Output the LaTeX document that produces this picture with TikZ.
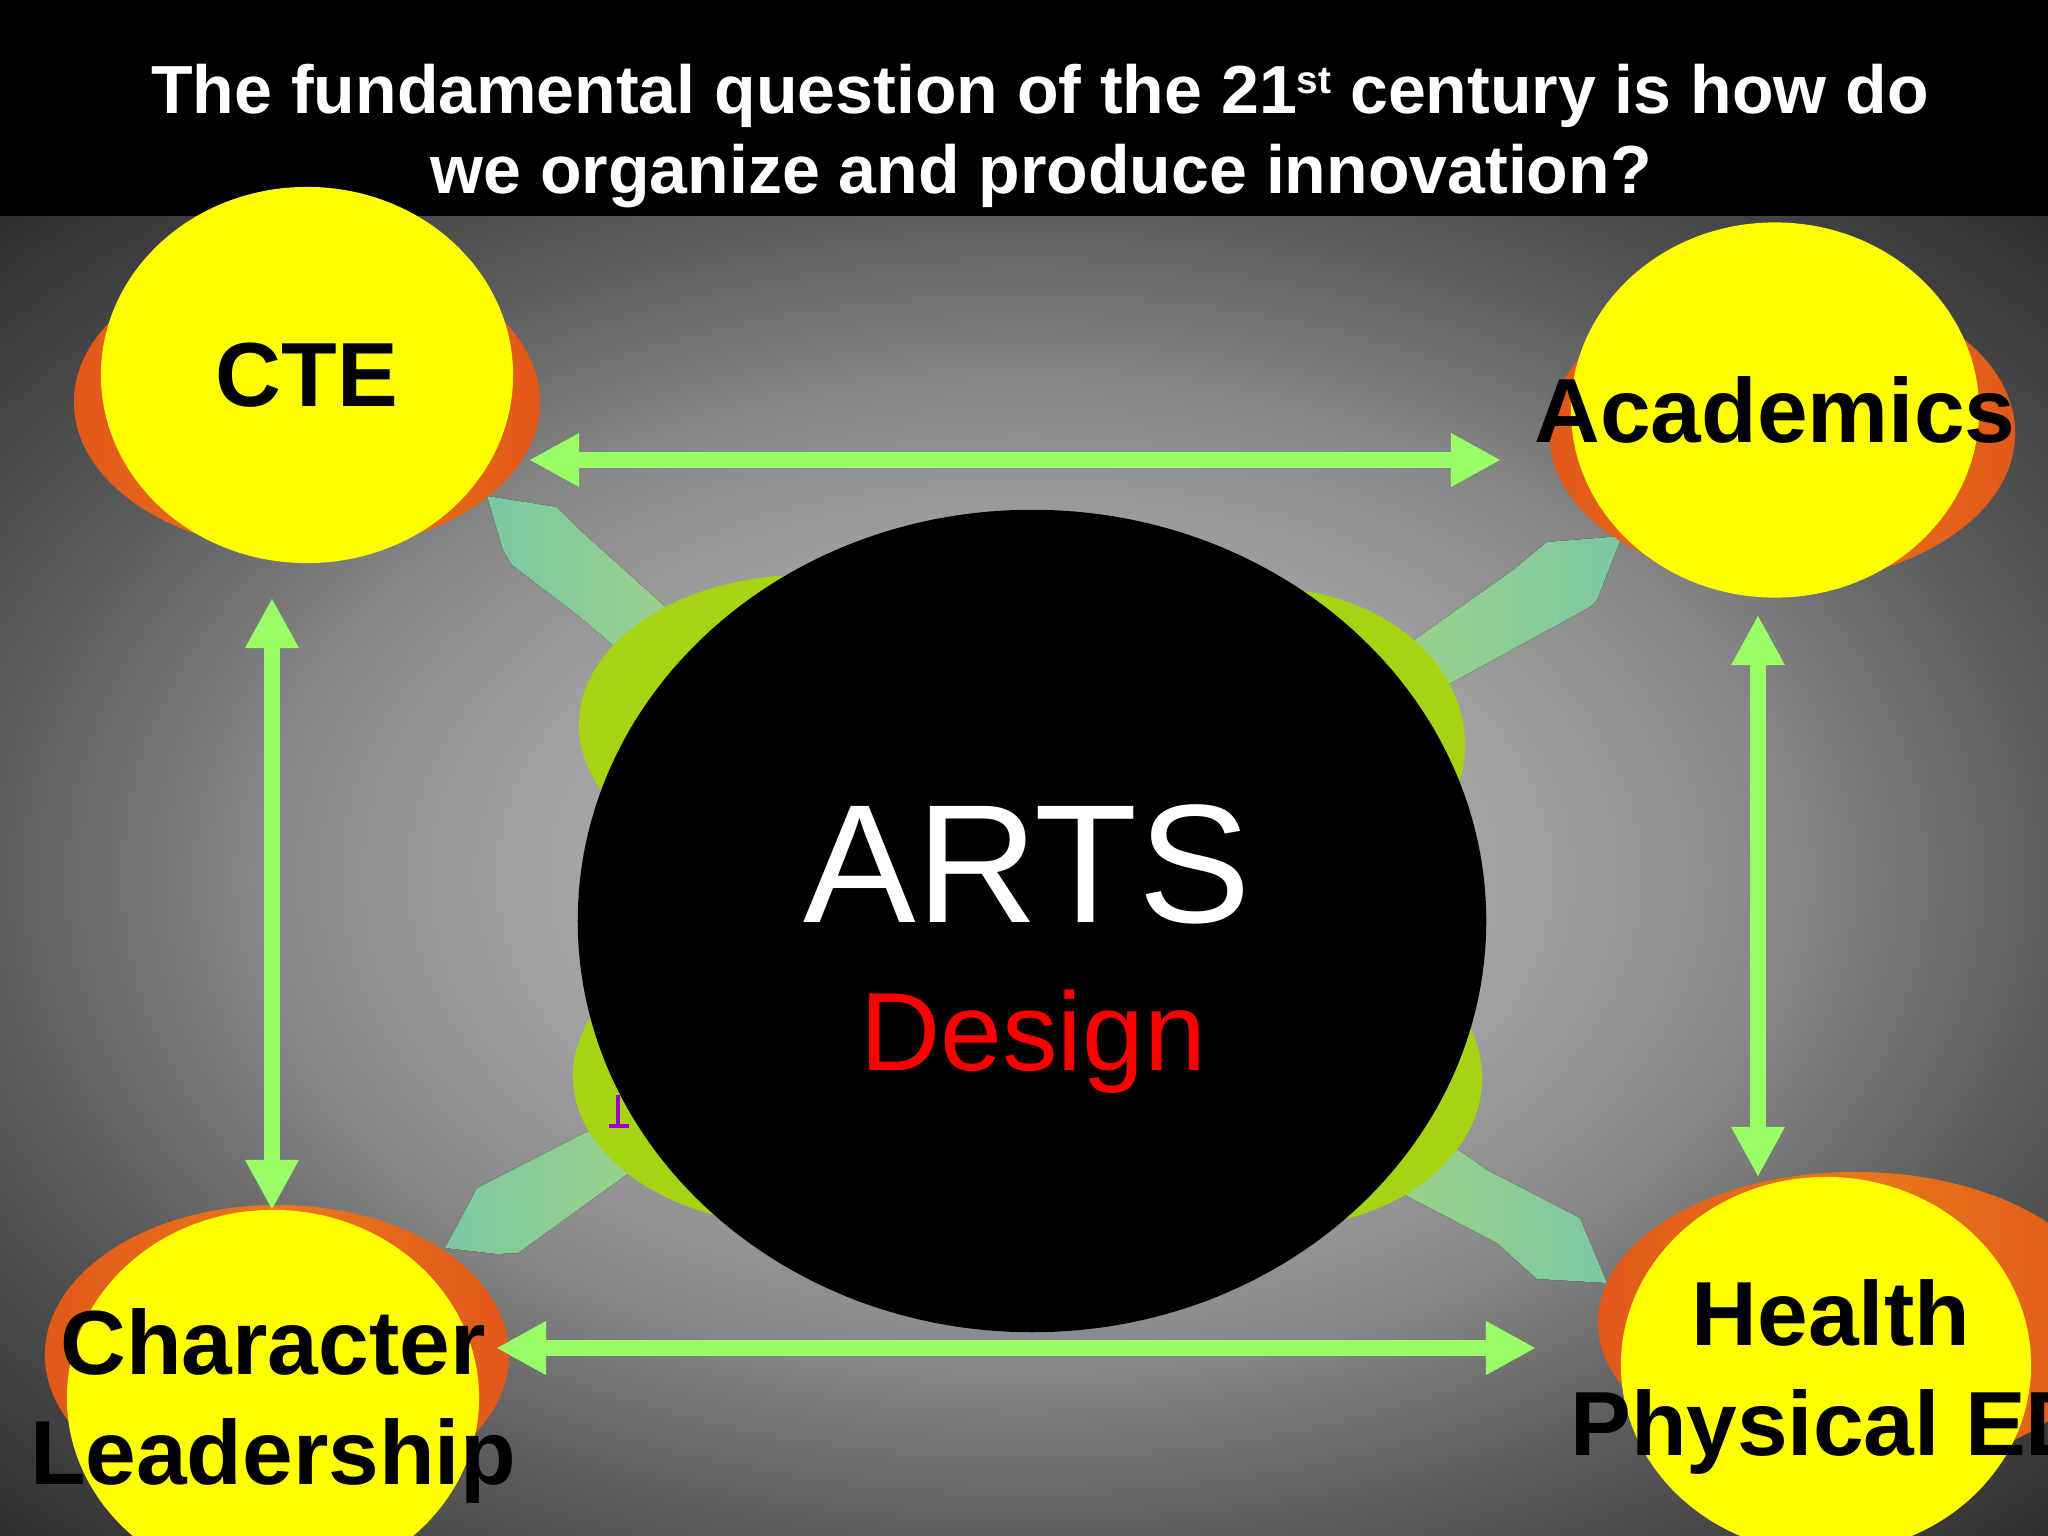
\documentclass[tikz,border=0pt]{standalone}
\usepackage{fontspec}
\setmainfont{Liberation Sans}
\usetikzlibrary{shapes.geometric,arrows.meta}
\definecolor{bgA}{HTML}{B4B4B4}
\definecolor{bgB}{HTML}{A2A2A2}
\definecolor{bgC}{HTML}{858585}
\definecolor{bgD}{HTML}{5E5E5E}
\definecolor{bgE}{HTML}{2E2E2E}
\definecolor{yellowC}{HTML}{FFFF00}
\definecolor{orangeC}{HTML}{E2581A}
\definecolor{orangeD}{HTML}{E8781A}
\definecolor{lobeC}{HTML}{A4D414}
\definecolor{arrowC}{HTML}{99FF66}
\definecolor{tealA}{HTML}{7CC8A2}
\definecolor{tealB}{HTML}{9AD18A}
\definecolor{purpleC}{HTML}{9C00C8}
\pgfdeclareradialshading{bgshade}{\pgfpoint{0bp}{0bp}}{color(0bp)=(bgA); color(12bp)=(bgB); color(19bp)=(bgC); color(25bp)=(bgD); color(35.4bp)=(bgE); color(50bp)=(bgE)}
\begin{document}
\begin{tikzpicture}[x=0.01cm,y=-0.01cm,
  yel/.style={ellipse, fill=yellowC, inner sep=0pt},
  lab/.style={align=center, text=black, inner sep=0pt,
    font=\bfseries\fontsize{25.9pt}{31.2pt}\selectfont},
  org/.style={ellipse, inner sep=0pt, left color=orangeC, right color=orangeC, middle color=orangeD},
  lobe/.style={ellipse, fill=lobeC, inner sep=0pt},
  link/.style={line width=0.16cm, draw=arrowC,
    {Triangle[length=5mm,width=5mm]}-{Triangle[length=5mm,width=5mm]}},
  title/.style={text=white, anchor=base, inner sep=0pt,
    font=\bfseries\fontsize{19.35pt}{22pt}\selectfont}]
\useasboundingbox (0,0) rectangle (2048,1536);
% background
\fill[black] (0,0) rectangle (2048,1536);
\shade[shading=bgshade] (0,216) rectangle (2048,1536);
% teal bands
\fill[left color=tealA, right color=tealB] (487,496) -- (557,507) -- (582,532) -- (680,620) -- (630,660) -- (580,617) -- (512,565) -- (503,550) -- cycle;
\fill[left color=tealB, right color=tealA] (1400,650) -- (1513,570) -- (1547,542) -- (1622,536) -- (1597,600) -- (1590,607) -- (1453,682) -- (1420,700) -- cycle;
\fill[left color=tealA, right color=tealB] (445,1248) -- (477,1188) -- (600,1125) -- (640,1165) -- (518,1253) -- (497,1254) -- cycle;
\fill[left color=tealB, right color=tealA] (1430,1130) -- (1487,1170) -- (1580,1218) -- (1607,1283) -- (1537,1279) -- (1497,1243) -- (1405,1195) -- cycle;
% green lobes
\node[lobe, minimum width=4.52cm, minimum height=3.0cm] (lobeTL) at (805,725) {};
\node[lobe, minimum width=4.54cm, minimum height=3.0cm] (lobeBL) at (800,1076) {};
\node[lobe, minimum width=4.0cm, minimum height=3.14cm] (lobeTR) at (1265,745) {};
\node[lobe, minimum width=4.14cm, minimum height=3.0cm] (lobeBR) at (1275,1078) {};
% central ellipse
\node[ellipse, fill=black, inner sep=0pt, minimum width=9.08cm, minimum height=8.22cm] (arts) at (1032,921) {};
\node[anchor=base, inner sep=0pt, text=white, font=\fontsize{48pt}{50pt}\selectfont] (artsT) at (1027,922) {ARTS};
\node[anchor=base, inner sep=0pt, text=red, font=\fontsize{31.6pt}{34pt}\selectfont] (designT) at (1033,1070) {Design};
% cursor mark
\draw[purpleC, line width=0.9pt] (618,1095) -- (618,1125);
\fill[purpleC] (609,1124) rectangle (629,1128);
% orange back ellipses
\node[org, minimum width=4.66cm, minimum height=3.0cm] (cteO) at (307,402) {};
\node[org, minimum width=4.66cm, minimum height=3.0cm] (acadO) at (1782,433) {};
\node[org, minimum width=4.64cm, minimum height=3.0cm] (charO) at (277,1355) {};
\node[org, minimum width=5.14cm, minimum height=3.0cm] (healthO) at (1855,1322) {};
% yellow ellipses
\node[yel, minimum width=4.12cm, minimum height=3.76cm] (cte) at (307,375) {};
\node[yel, minimum width=4.08cm, minimum height=3.75cm] (acad) at (1775,410) {};
\node[yel, minimum width=4.12cm, minimum height=3.76cm] (char) at (273,1398) {};
\node[yel, minimum width=4.10cm, minimum height=3.76cm] (health) at (1826,1365) {};
% arrow end points
\coordinate (cteR) at (529,460);
\coordinate (acadL) at (1501,460);
\coordinate (charR) at (496,1348);
\coordinate (healthL) at (1536,1348);
\coordinate (cteB) at (272,598);
\coordinate (charT) at (272,1210);
\coordinate (acadB) at (1758,615);
\coordinate (healthT) at (1758,1177);
\draw[link] (cteR) -- (acadL);
\draw[link] (charR) -- (healthL);
\draw[link] (cteB) -- (charT);
\draw[link] (acadB) -- (healthT);
% labels
\node[lab] (cteL) at (cte.center) {CTE};
\node[lab] (acadLbl) at (acad.center) {Academics};
\node[lab] (charL) at ([yshift=-0.08cm]char.center) {Character\\Leadership};
\node[lab] (healthLbl) at ([xshift=0.05cm,yshift=-0.12cm]health.center) {Health\\Physical ED};
% title
\node[title] (t1) at (1040,113) {The fundamental question of the 21\raisebox{5.6pt}{\fontsize{11pt}{12pt}\selectfont st} century is how do};
\node[title] (t2) at (1041,193) {we organize and produce innovation?};
\end{tikzpicture}
\end{document}
